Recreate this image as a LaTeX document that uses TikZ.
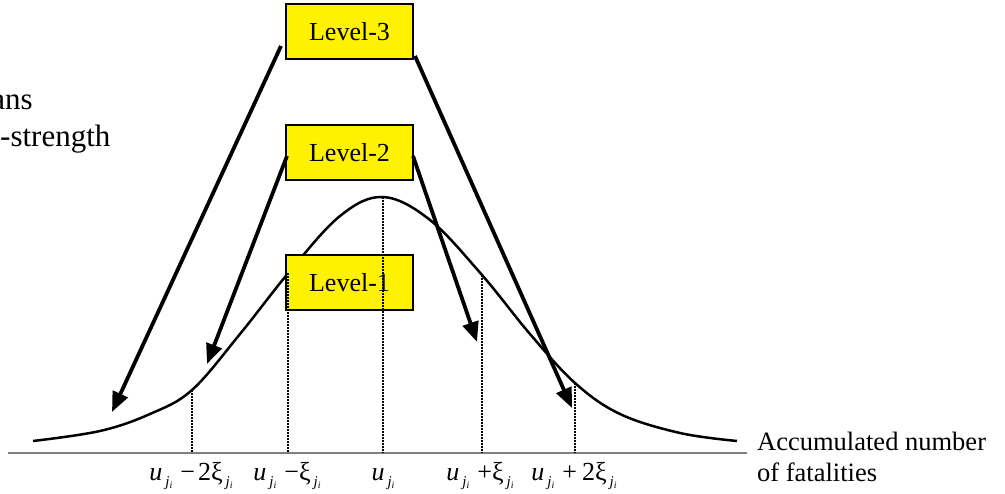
\documentclass[tikz,border=0pt]{standalone}
\usepackage{fontspec}
\setmainfont{Liberation Serif}
\usetikzlibrary{arrows.meta}
\newcommand{\jisub}{\kern3pt\raisebox{-6pt}{\fontsize{15}{15}\selectfont\textit{j}\raisebox{-3pt}{\fontsize{10}{10}\selectfont\textit{i}}}}
\newcommand{\ulab}{\textit{u}\jisub}
\begin{document}
\begin{tikzpicture}[x=1pt,y=-1pt,
  levelbox/.style={draw=black,line width=1.5pt,fill=yellow,minimum width=127pt,minimum height=55pt,inner sep=0pt,font=\fontsize{26}{30}\selectfont},
  bigarrow/.style={line width=3.8pt,-{Triangle[length=20pt,width=16pt]}},
  guide/.style={line width=1.6pt,dash pattern=on 1.6pt off 1.4pt},
  curveline/.style={line width=2.5pt,line join=round},
  lab/.style={font=\fontsize{26}{30}\selectfont,anchor=base,inner sep=0pt},
  sidetext/.style={font=\fontsize{26.5}{32}\selectfont,inner sep=0pt}]
\useasboundingbox (0,0) rectangle (1005,494);
% axis
\coordinate (ax0) at (8,453);
\coordinate (ax1) at (747,453);
\draw[black!50,line width=1.5pt] (ax0) -- (ax1);
% curve
\draw[curveline] plot[smooth,tension=0.6] coordinates {(33,441) (100,431) (150,414) (192,390) (240,334) (290,271) (340,216) (383,197) (430,220) (482,275) (530,334) (575,383) (620,414) (680,433) (737,441)};
% boxes
\node[levelbox] (L3) at (349.5,31.5) {Level-3};
\node[levelbox] (L2) at (349.5,152.5) {Level-2};
\node[levelbox] (L1) at (349.5,282.5) {Level-1};
% dotted guides
\foreach \n/\x/\y in {a/192/390, b/288/273, c/383/197, d/482/275, e/575/383}{
  \coordinate (t\n) at (\x,\y);
  \coordinate (b\n) at (\x,453);
  \draw[guide] (t\n) -- (b\n);
}
% arrows
\coordinate (s3l) at (281,46);  \coordinate (e3l) at (112,412);
\coordinate (s3r) at (415,56);  \coordinate (e3r) at (572,408);
\coordinate (s2l) at (287,156); \coordinate (e2l) at (207,364);
\coordinate (s2r) at (413,156); \coordinate (e2r) at (477,342);
\draw[bigarrow] (s3l) -- (e3l);
\draw[bigarrow] (s3r) -- (e3r);
\draw[bigarrow] (s2l) -- (e2l);
\draw[bigarrow] (s2r) -- (e2r);
% labels
\node[lab] (la) at (191,480) {\ulab\kern8pt−\kern3pt2ξ\jisub};
\node[lab] (lb) at (287,480) {\ulab\kern8pt−ξ\jisub};
\node[lab] (lc) at (383,480) {\ulab};
\node[lab] (ld) at (480,480) {\ulab\kern8pt+ξ\jisub};
\node[lab] (le) at (574,480) {\ulab\kern8pt+\kern5pt2ξ\jisub};
% side texts
\node[sidetext,anchor=base west] (acc1) at (757,450) {Accumulated number};
\node[sidetext,anchor=base west] (acc2) at (757,482) {of fatalities};
\node[font=\fontsize{31}{36}\selectfont,inner sep=0pt,anchor=base east] (tl1) at (33,110) {ans};
\node[font=\fontsize{31}{36}\selectfont,inner sep=0pt,anchor=base west] (tl2) at (0,147) {-strength};
\end{tikzpicture}
\end{document}
